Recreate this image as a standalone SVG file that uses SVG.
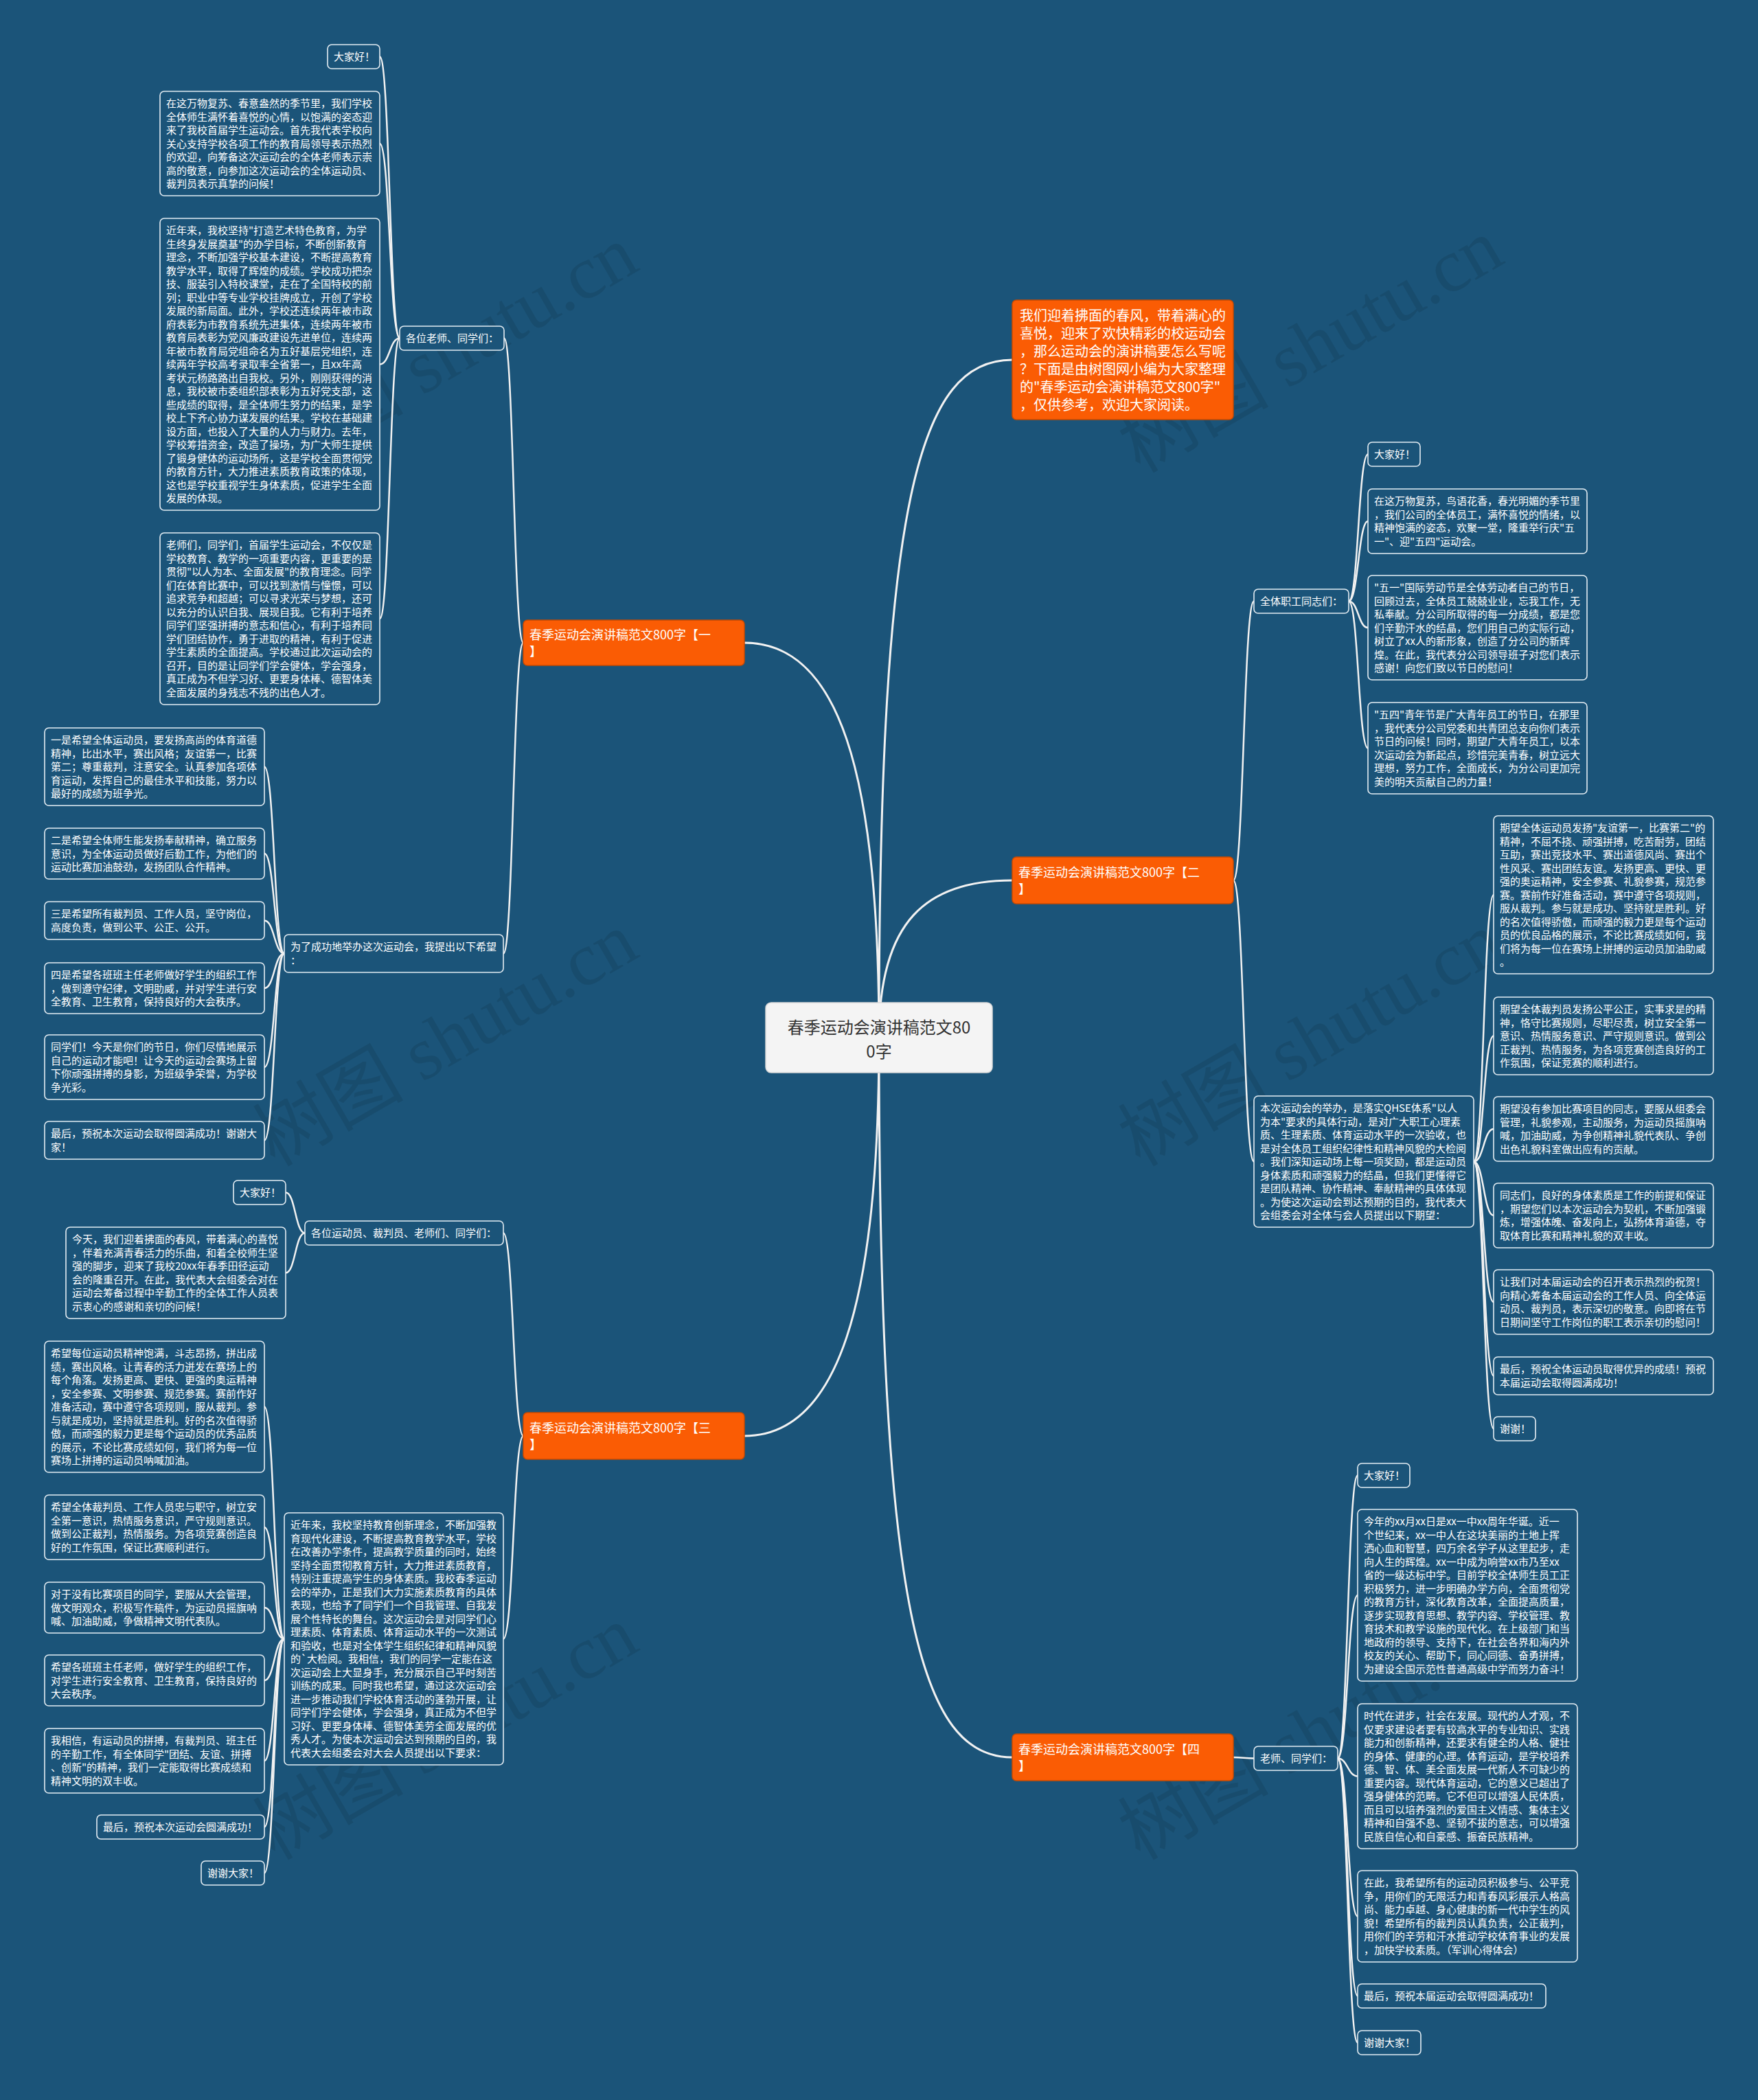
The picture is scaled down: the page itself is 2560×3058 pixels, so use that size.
<svg xmlns="http://www.w3.org/2000/svg" width="2560" height="3058" viewBox="0 0 2560 3058">
<style>
.box{fill:#1b5479;stroke:#e4edf3;stroke-width:1.6}
.org{fill:#fa5c04;stroke:#c94a00;stroke-width:1.5}
.root{fill:#f4f4f4;stroke:#d8d8d8;stroke-width:1.5}
.t{font-family:"Noto Sans CJK SC","Noto Sans",sans-serif;font-size:15px;fill:#ffffff}
.ot{font-size:18px}
.st{font-size:20px}
.rt{font-size:24px;fill:#333333}
.c{fill:none;stroke:#f2f2f2;stroke-width:2.5}
.cr{fill:none;stroke:#f2f2f2;stroke-width:3}
.wm{font-family:"Liberation Serif","Noto Sans CJK SC",serif;font-size:110px;fill:#000000;opacity:0.09}
</style>
<rect x="0" y="0" width="2560" height="3058" fill="#1b5479"/>
<g id="watermarks">
<text class="wm" transform="translate(400,700) rotate(-30)">树图 shutu.cn</text>
<text class="wm" transform="translate(1660,690) rotate(-30)">树图 shutu.cn</text>
<text class="wm" transform="translate(400,1700) rotate(-30)">树图 shutu.cn</text>
<text class="wm" transform="translate(1660,1700) rotate(-30)">树图 shutu.cn</text>
<text class="wm" transform="translate(400,2710) rotate(-30)">树图 shutu.cn</text>
<text class="wm" transform="translate(1660,2710) rotate(-30)">树图 shutu.cn</text>
</g>
<g id="connectors">
<path class="cr" d="M1084,936 C1220,936 1280,1120 1280,1511"/>
<path class="cr" d="M1084,2091 C1220,2091 1280,1900 1280,1511"/>
<path class="cr" d="M1474,524 C1340,524 1280,720 1280,1511"/>
<path class="cr" d="M1474,1282 C1350,1282 1280,1340 1280,1511"/>
<path class="cr" d="M1474,2559 C1340,2559 1280,2350 1280,1511"/>
<path class="c" d="M762,936 C748,936 748,492.5 734,492.5"/>
<path class="c" d="M762,936 C747.5,936 747.5,1388.5 733,1388.5"/>
<path class="c" d="M582,492.5 C567.5,492.5 567.5,82.5 553,82.5"/>
<path class="c" d="M582,492.5 C567.5,492.5 567.5,209 553,209"/>
<path class="c" d="M582,492.5 C567.5,492.5 567.5,530.5 553,530.5"/>
<path class="c" d="M582,492.5 C567.5,492.5 567.5,901 553,901"/>
<path class="c" d="M414,1388.5 C399.5,1388.5 399.5,1116.5 385,1116.5"/>
<path class="c" d="M414,1388.5 C399.5,1388.5 399.5,1243 385,1243"/>
<path class="c" d="M414,1388.5 C399.5,1388.5 399.5,1340.5 385,1340.5"/>
<path class="c" d="M414,1388.5 C399.5,1388.5 399.5,1439 385,1439"/>
<path class="c" d="M414,1388.5 C399.5,1388.5 399.5,1554 385,1554"/>
<path class="c" d="M414,1388.5 C399.5,1388.5 399.5,1660.5 385,1660.5"/>
<path class="c" d="M762,2091 C747.5,2091 747.5,1795.5 733,1795.5"/>
<path class="c" d="M762,2091 C747.5,2091 747.5,2386.5 733,2386.5"/>
<path class="c" d="M444,1795.5 C430,1795.5 430,1736.5 416,1736.5"/>
<path class="c" d="M444,1795.5 C430,1795.5 430,1853.5 416,1853.5"/>
<path class="c" d="M414,2386.5 C399.5,2386.5 399.5,2048.5 385,2048.5"/>
<path class="c" d="M414,2386.5 C399.5,2386.5 399.5,2224 385,2224"/>
<path class="c" d="M414,2386.5 C399.5,2386.5 399.5,2341 385,2341"/>
<path class="c" d="M414,2386.5 C399.5,2386.5 399.5,2447 385,2447"/>
<path class="c" d="M414,2386.5 C399.5,2386.5 399.5,2564 385,2564"/>
<path class="c" d="M414,2386.5 C399.5,2386.5 399.5,2660.5 385,2660.5"/>
<path class="c" d="M414,2386.5 C399.5,2386.5 399.5,2727.5 385,2727.5"/>
<path class="c" d="M1796,1282 C1811,1282 1811,875.5 1826,875.5"/>
<path class="c" d="M1796,1282 C1811,1282 1811,1691.5 1826,1691.5"/>
<path class="c" d="M1964,875.5 C1978,875.5 1978,661.5 1992,661.5"/>
<path class="c" d="M1964,875.5 C1978,875.5 1978,759 1992,759"/>
<path class="c" d="M1964,875.5 C1978,875.5 1978,914 1992,914"/>
<path class="c" d="M1964,875.5 C1978,875.5 1978,1089.5 1992,1089.5"/>
<path class="c" d="M2146,1691.5 C2160.5,1691.5 2160.5,1303 2175,1303"/>
<path class="c" d="M2146,1691.5 C2160.5,1691.5 2160.5,1508.5 2175,1508.5"/>
<path class="c" d="M2146,1691.5 C2160.5,1691.5 2160.5,1644 2175,1644"/>
<path class="c" d="M2146,1691.5 C2160.5,1691.5 2160.5,1770 2175,1770"/>
<path class="c" d="M2146,1691.5 C2160.5,1691.5 2160.5,1896 2175,1896"/>
<path class="c" d="M2146,1691.5 C2160.5,1691.5 2160.5,2003.5 2175,2003.5"/>
<path class="c" d="M2146,1691.5 C2160.5,1691.5 2160.5,2080.5 2175,2080.5"/>
<path class="c" d="M1796,2559 C1811,2559 1811,2560.5 1826,2560.5"/>
<path class="c" d="M1948,2560.5 C1962.5,2560.5 1962.5,2148.5 1977,2148.5"/>
<path class="c" d="M1948,2560.5 C1962.5,2560.5 1962.5,2323 1977,2323"/>
<path class="c" d="M1948,2560.5 C1962.5,2560.5 1962.5,2586.5 1977,2586.5"/>
<path class="c" d="M1948,2560.5 C1962.5,2560.5 1962.5,2790.5 1977,2790.5"/>
<path class="c" d="M1948,2560.5 C1962.5,2560.5 1962.5,2906.5 1977,2906.5"/>
<path class="c" d="M1948,2560.5 C1962.5,2560.5 1962.5,2974.5 1977,2974.5"/>
</g>
<g id="root">
<rect class="root" x="1115" y="1460" width="330" height="102" rx="8"/>
<text class="t rt" text-anchor="middle"><tspan x="1280" y="1505">春季运动会演讲稿范文80</tspan><tspan x="1280" y="1540">0字</tspan></text>
</g>
<g id="summary">
<rect class="org" x="1474" y="437" width="322" height="174" rx="6"/>
<text class="t st"><tspan x="1485" y="467">我们迎着拂面的春风，带着满心的</tspan><tspan x="1485" dy="26">喜悦，迎来了欢快精彩的校运动会</tspan><tspan x="1485" dy="26">，那么运动会的演讲稿要怎么写呢</tspan><tspan x="1485" dy="26">？下面是由树图网小编为大家整理</tspan><tspan x="1485" dy="26">的"春季运动会演讲稿范文800字"</tspan><tspan x="1485" dy="26">，仅供参考，欢迎大家阅读。</tspan></text>
</g>
<g id="b1">
<rect class="org" x="762" y="903" width="322" height="66" rx="6"/>
<text class="t ot"><tspan x="771" y="931">春季运动会演讲稿范文800字【一</tspan><tspan x="771" dy="24">】</tspan></text>
</g>
<g id="b2">
<rect class="org" x="1474" y="1248" width="322" height="68" rx="6"/>
<text class="t ot"><tspan x="1483" y="1277">春季运动会演讲稿范文800字【二</tspan><tspan x="1483" dy="24">】</tspan></text>
</g>
<g id="b3">
<rect class="org" x="762" y="2057" width="322" height="68" rx="6"/>
<text class="t ot"><tspan x="771" y="2086">春季运动会演讲稿范文800字【三</tspan><tspan x="771" dy="24">】</tspan></text>
</g>
<g id="b4">
<rect class="org" x="1474" y="2525" width="322" height="68" rx="6"/>
<text class="t ot"><tspan x="1483" y="2554">春季运动会演讲稿范文800字【四</tspan><tspan x="1483" dy="24">】</tspan></text>
</g>
<g id="n1a">
<rect class="box" x="582" y="475" width="152" height="35" rx="6"/>
<text class="t" x="591" y="498">各位老师、同学们：</text>
</g>
<g id="n1a1">
<rect class="box" x="477" y="65" width="76" height="35" rx="6"/>
<text class="t" x="486" y="88">大家好！</text>
</g>
<g id="n1a2">
<rect class="box" x="233" y="133" width="320" height="152" rx="6"/>
<text class="t"><tspan x="242" y="156">在这万物复苏、春意盎然的季节里，我们学校</tspan><tspan x="242" dy="19.5">全体师生满怀着喜悦的心情，以饱满的姿态迎</tspan><tspan x="242" dy="19.5">来了我校首届学生运动会。首先我代表学校向</tspan><tspan x="242" dy="19.5">关心支持学校各项工作的教育局领导表示热烈</tspan><tspan x="242" dy="19.5">的欢迎，向筹备这次运动会的全体老师表示崇</tspan><tspan x="242" dy="19.5">高的敬意，向参加这次运动会的全体运动员、</tspan><tspan x="242" dy="19.5">裁判员表示真挚的问候！</tspan></text>
</g>
<g id="n1a3">
<rect class="box" x="233" y="318" width="320" height="425" rx="6"/>
<text class="t"><tspan x="242" y="341">近年来，我校坚持"打造艺术特色教育，为学</tspan><tspan x="242" dy="19.5">生终身发展奠基"的办学目标，不断创新教育</tspan><tspan x="242" dy="19.5">理念，不断加强学校基本建设，不断提高教育</tspan><tspan x="242" dy="19.5">教学水平，取得了辉煌的成绩。学校成功把杂</tspan><tspan x="242" dy="19.5">技、服装引入特校课堂，走在了全国特校的前</tspan><tspan x="242" dy="19.5">列；职业中等专业学校挂牌成立，开创了学校</tspan><tspan x="242" dy="19.5">发展的新局面。此外，学校还连续两年被市政</tspan><tspan x="242" dy="19.5">府表彰为市教育系统先进集体，连续两年被市</tspan><tspan x="242" dy="19.5">教育局表彰为党风廉政建设先进单位，连续两</tspan><tspan x="242" dy="19.5">年被市教育局党组命名为五好基层党组织，连</tspan><tspan x="242" dy="19.5">续两年学校高考录取率全省第一，且xx年高</tspan><tspan x="242" dy="19.5">考状元杨路路出自我校。另外，刚刚获得的消</tspan><tspan x="242" dy="19.5">息，我校被市委组织部表彰为五好党支部，这</tspan><tspan x="242" dy="19.5">些成绩的取得，是全体师生努力的结果，是学</tspan><tspan x="242" dy="19.5">校上下齐心协力谋发展的结果。学校在基础建</tspan><tspan x="242" dy="19.5">设方面，也投入了大量的人力与财力。去年，</tspan><tspan x="242" dy="19.5">学校筹措资金，改造了操场，为广大师生提供</tspan><tspan x="242" dy="19.5">了锻身健体的运动场所，这是学校全面贯彻党</tspan><tspan x="242" dy="19.5">的教育方针，大力推进素质教育政策的体现，</tspan><tspan x="242" dy="19.5">这也是学校重视学生身体素质，促进学生全面</tspan><tspan x="242" dy="19.5">发展的体现。</tspan></text>
</g>
<g id="n1a4">
<rect class="box" x="233" y="776" width="320" height="250" rx="6"/>
<text class="t"><tspan x="242" y="799">老师们，同学们，首届学生运动会，不仅仅是</tspan><tspan x="242" dy="19.5">学校教育、教学的一项重要内容，更重要的是</tspan><tspan x="242" dy="19.5">贯彻"以人为本、全面发展"的教育理念。同学</tspan><tspan x="242" dy="19.5">们在体育比赛中，可以找到激情与憧憬，可以</tspan><tspan x="242" dy="19.5">追求竞争和超越；可以寻求光荣与梦想，还可</tspan><tspan x="242" dy="19.5">以充分的认识自我、展现自我。它有利于培养</tspan><tspan x="242" dy="19.5">同学们坚强拼搏的意志和信心，有利于培养同</tspan><tspan x="242" dy="19.5">学们团结协作，勇于进取的精神，有利于促进</tspan><tspan x="242" dy="19.5">学生素质的全面提高。学校通过此次运动会的</tspan><tspan x="242" dy="19.5">召开，目的是让同学们学会健体，学会强身，</tspan><tspan x="242" dy="19.5">真正成为不但学习好、更要身体棒、德智体美</tspan><tspan x="242" dy="19.5">全面发展的身残志不残的出色人才。</tspan></text>
</g>
<g id="n1b">
<rect class="box" x="414" y="1361" width="319" height="55" rx="6"/>
<text class="t"><tspan x="423" y="1384">为了成功地举办这次运动会，我提出以下希望</tspan><tspan x="423" dy="19.5">：</tspan></text>
</g>
<g id="n1b1">
<rect class="box" x="65" y="1060" width="320" height="113" rx="6"/>
<text class="t"><tspan x="74" y="1083">一是希望全体运动员，要发扬高尚的体育道德</tspan><tspan x="74" dy="19.5">精神，比出水平，赛出风格；友谊第一，比赛</tspan><tspan x="74" dy="19.5">第二；尊重裁判，注意安全。认真参加各项体</tspan><tspan x="74" dy="19.5">育运动，发挥自己的最佳水平和技能，努力以</tspan><tspan x="74" dy="19.5">最好的成绩为班争光。</tspan></text>
</g>
<g id="n1b2">
<rect class="box" x="65" y="1206" width="320" height="74" rx="6"/>
<text class="t"><tspan x="74" y="1229">二是希望全体师生能发扬奉献精神，确立服务</tspan><tspan x="74" dy="19.5">意识，为全体运动员做好后勤工作，为他们的</tspan><tspan x="74" dy="19.5">运动比赛加油鼓劲，发扬团队合作精神。</tspan></text>
</g>
<g id="n1b3">
<rect class="box" x="65" y="1313" width="320" height="55" rx="6"/>
<text class="t"><tspan x="74" y="1336">三是希望所有裁判员、工作人员，坚守岗位，</tspan><tspan x="74" dy="19.5">高度负责，做到公平、公正、公开。</tspan></text>
</g>
<g id="n1b4">
<rect class="box" x="65" y="1402" width="320" height="74" rx="6"/>
<text class="t"><tspan x="74" y="1425">四是希望各班班主任老师做好学生的组织工作</tspan><tspan x="74" dy="19.5">，做到遵守纪律，文明助威，并对学生进行安</tspan><tspan x="74" dy="19.5">全教育、卫生教育，保持良好的大会秩序。</tspan></text>
</g>
<g id="n1b5">
<rect class="box" x="65" y="1507" width="320" height="94" rx="6"/>
<text class="t"><tspan x="74" y="1530">同学们！今天是你们的节日，你们尽情地展示</tspan><tspan x="74" dy="19.5">自己的运动才能吧！让今天的运动会赛场上留</tspan><tspan x="74" dy="19.5">下你顽强拼搏的身影，为班级争荣誉，为学校</tspan><tspan x="74" dy="19.5">争光彩。</tspan></text>
</g>
<g id="n1b6">
<rect class="box" x="65" y="1633" width="320" height="55" rx="6"/>
<text class="t"><tspan x="74" y="1656">最后，预祝本次运动会取得圆满成功！谢谢大</tspan><tspan x="74" dy="19.5">家！</tspan></text>
</g>
<g id="n3a">
<rect class="box" x="444" y="1778" width="289" height="35" rx="6"/>
<text class="t" x="453" y="1801">各位运动员、裁判员、老师们、同学们：</text>
</g>
<g id="n3a1">
<rect class="box" x="340" y="1719" width="76" height="35" rx="6"/>
<text class="t" x="349" y="1742">大家好！</text>
</g>
<g id="n3a2">
<rect class="box" x="96" y="1787" width="320" height="133" rx="6"/>
<text class="t"><tspan x="105" y="1810">今天，我们迎着拂面的春风，带着满心的喜悦</tspan><tspan x="105" dy="19.5">，伴着充满青春活力的乐曲，和着全校师生坚</tspan><tspan x="105" dy="19.5">强的脚步，迎来了我校20xx年春季田径运动</tspan><tspan x="105" dy="19.5">会的隆重召开。在此，我代表大会组委会对在</tspan><tspan x="105" dy="19.5">运动会筹备过程中辛勤工作的全体工作人员表</tspan><tspan x="105" dy="19.5">示衷心的感谢和亲切的问候！</tspan></text>
</g>
<g id="n3b">
<rect class="box" x="414" y="2203" width="319" height="367" rx="6"/>
<text class="t"><tspan x="423" y="2226">近年来，我校坚持教育创新理念，不断加强教</tspan><tspan x="423" dy="19.5">育现代化建设，不断提高教育教学水平，学校</tspan><tspan x="423" dy="19.5">在改善办学条件，提高教学质量的同时，始终</tspan><tspan x="423" dy="19.5">坚持全面贯彻教育方针，大力推进素质教育，</tspan><tspan x="423" dy="19.5">特别注重提高学生的身体素质。我校春季运动</tspan><tspan x="423" dy="19.5">会的举办，正是我们大力实施素质教育的具体</tspan><tspan x="423" dy="19.5">表现，也给予了同学们一个自我管理、自我发</tspan><tspan x="423" dy="19.5">展个性特长的舞台。这次运动会是对同学们心</tspan><tspan x="423" dy="19.5">理素质、体育素质、体育运动水平的一次测试</tspan><tspan x="423" dy="19.5">和验收，也是对全体学生组织纪律和精神风貌</tspan><tspan x="423" dy="19.5">的`大检阅。我相信，我们的同学一定能在这</tspan><tspan x="423" dy="19.5">次运动会上大显身手，充分展示自己平时刻苦</tspan><tspan x="423" dy="19.5">训练的成果。同时我也希望，通过这次运动会</tspan><tspan x="423" dy="19.5">进一步推动我们学校体育活动的蓬勃开展，让</tspan><tspan x="423" dy="19.5">同学们学会健体，学会强身，真正成为不但学</tspan><tspan x="423" dy="19.5">习好、更要身体棒、德智体美劳全面发展的优</tspan><tspan x="423" dy="19.5">秀人才。为使本次运动会达到预期的目的，我</tspan><tspan x="423" dy="19.5">代表大会组委会对大会人员提出以下要求：</tspan></text>
</g>
<g id="n3b1">
<rect class="box" x="65" y="1953" width="320" height="191" rx="6"/>
<text class="t"><tspan x="74" y="1976">希望每位运动员精神饱满，斗志昂扬，拼出成</tspan><tspan x="74" dy="19.5">绩，赛出风格。让青春的活力迸发在赛场上的</tspan><tspan x="74" dy="19.5">每个角落。发扬更高、更快、更强的奥运精神</tspan><tspan x="74" dy="19.5">，安全参赛、文明参赛、规范参赛。赛前作好</tspan><tspan x="74" dy="19.5">准备活动，赛中遵守各项规则，服从裁判。参</tspan><tspan x="74" dy="19.5">与就是成功，坚持就是胜利。好的名次值得骄</tspan><tspan x="74" dy="19.5">傲，而顽强的毅力更是每个运动员的优秀品质</tspan><tspan x="74" dy="19.5">的展示，不论比赛成绩如何，我们将为每一位</tspan><tspan x="74" dy="19.5">赛场上拼搏的运动员呐喊加油。</tspan></text>
</g>
<g id="n3b2">
<rect class="box" x="65" y="2177" width="320" height="94" rx="6"/>
<text class="t"><tspan x="74" y="2200">希望全体裁判员、工作人员忠与职守，树立安</tspan><tspan x="74" dy="19.5">全第一意识，热情服务意识，严守规则意识。</tspan><tspan x="74" dy="19.5">做到公正裁判，热情服务。为各项竞赛创造良</tspan><tspan x="74" dy="19.5">好的工作氛围，保证比赛顺利进行。</tspan></text>
</g>
<g id="n3b3">
<rect class="box" x="65" y="2304" width="320" height="74" rx="6"/>
<text class="t"><tspan x="74" y="2327">对于没有比赛项目的同学，要服从大会管理，</tspan><tspan x="74" dy="19.5">做文明观众，积极写作稿件，为运动员摇旗呐</tspan><tspan x="74" dy="19.5">喊、加油助威，争做精神文明代表队。</tspan></text>
</g>
<g id="n3b4">
<rect class="box" x="65" y="2410" width="320" height="74" rx="6"/>
<text class="t"><tspan x="74" y="2433">希望各班班主任老师，做好学生的组织工作，</tspan><tspan x="74" dy="19.5">对学生进行安全教育、卫生教育，保持良好的</tspan><tspan x="74" dy="19.5">大会秩序。</tspan></text>
</g>
<g id="n3b5">
<rect class="box" x="65" y="2517" width="320" height="94" rx="6"/>
<text class="t"><tspan x="74" y="2540">我相信，有运动员的拼搏，有裁判员、班主任</tspan><tspan x="74" dy="19.5">的辛勤工作，有全体同学"团结、友谊、拼搏</tspan><tspan x="74" dy="19.5">、创新"的精神，我们一定能取得比赛成绩和</tspan><tspan x="74" dy="19.5">精神文明的双丰收。</tspan></text>
</g>
<g id="n3b6">
<rect class="box" x="141" y="2643" width="244" height="35" rx="6"/>
<text class="t" x="150" y="2666">最后，预祝本次运动会圆满成功！</text>
</g>
<g id="n3b7">
<rect class="box" x="293" y="2710" width="92" height="35" rx="6"/>
<text class="t" x="302" y="2733">谢谢大家！</text>
</g>
<g id="n2a">
<rect class="box" x="1826" y="858" width="138" height="35" rx="6"/>
<text class="t" x="1835" y="881">全体职工同志们：</text>
</g>
<g id="n2a1">
<rect class="box" x="1992" y="644" width="76" height="35" rx="6"/>
<text class="t" x="2001" y="667">大家好！</text>
</g>
<g id="n2a2">
<rect class="box" x="1992" y="712" width="319" height="94" rx="6"/>
<text class="t"><tspan x="2001" y="735">在这万物复苏，鸟语花香，春光明媚的季节里</tspan><tspan x="2001" dy="19.5">，我们公司的全体员工，满怀喜悦的情绪，以</tspan><tspan x="2001" dy="19.5">精神饱满的姿态，欢聚一堂，隆重举行庆"五</tspan><tspan x="2001" dy="19.5">一"、迎"五四"运动会。</tspan></text>
</g>
<g id="n2a3">
<rect class="box" x="1992" y="838" width="319" height="152" rx="6"/>
<text class="t"><tspan x="2001" y="861">"五一"国际劳动节是全体劳动者自己的节日，</tspan><tspan x="2001" dy="19.5">回顾过去，全体员工兢兢业业，忘我工作，无</tspan><tspan x="2001" dy="19.5">私奉献。分公司所取得的每一分成绩，都是您</tspan><tspan x="2001" dy="19.5">们辛勤汗水的结晶，您们用自己的实际行动，</tspan><tspan x="2001" dy="19.5">树立了xx人的新形象，创造了分公司的新辉</tspan><tspan x="2001" dy="19.5">煌。在此，我代表分公司领导班子对您们表示</tspan><tspan x="2001" dy="19.5">感谢！向您们致以节日的慰问！</tspan></text>
</g>
<g id="n2a4">
<rect class="box" x="1992" y="1023" width="319" height="133" rx="6"/>
<text class="t"><tspan x="2001" y="1046">"五四"青年节是广大青年员工的节日，在那里</tspan><tspan x="2001" dy="19.5">，我代表分公司党委和共青团总支向你们表示</tspan><tspan x="2001" dy="19.5">节日的问候！同时，期望广大青年员工，以本</tspan><tspan x="2001" dy="19.5">次运动会为新起点，珍惜完美青春，树立远大</tspan><tspan x="2001" dy="19.5">理想，努力工作，全面成长，为分公司更加完</tspan><tspan x="2001" dy="19.5">美的明天贡献自己的力量！</tspan></text>
</g>
<g id="n2b">
<rect class="box" x="1826" y="1596" width="320" height="191" rx="6"/>
<text class="t"><tspan x="1835" y="1619">本次运动会的举办，是落实QHSE体系"以人</tspan><tspan x="1835" dy="19.5">为本"要求的具体行动，是对广大职工心理素</tspan><tspan x="1835" dy="19.5">质、生理素质、体育运动水平的一次验收，也</tspan><tspan x="1835" dy="19.5">是对全体员工组织纪律性和精神风貌的大检阅</tspan><tspan x="1835" dy="19.5">。我们深知运动场上每一项奖励，都是运动员</tspan><tspan x="1835" dy="19.5">身体素质和顽强毅力的结晶，但我们更懂得它</tspan><tspan x="1835" dy="19.5">是团队精神、协作精神、奉献精神的具体体现</tspan><tspan x="1835" dy="19.5">。为使这次运动会到达预期的目的，我代表大</tspan><tspan x="1835" dy="19.5">会组委会对全体与会人员提出以下期望：</tspan></text>
</g>
<g id="n2b1">
<rect class="box" x="2175" y="1188" width="320" height="230" rx="6"/>
<text class="t"><tspan x="2184" y="1211">期望全体运动员发扬"友谊第一，比赛第二"的</tspan><tspan x="2184" dy="19.5">精神，不屈不挠、顽强拼搏，吃苦耐劳，团结</tspan><tspan x="2184" dy="19.5">互助，赛出竞技水平、赛出道德风尚、赛出个</tspan><tspan x="2184" dy="19.5">性风采、赛出团结友谊。发扬更高、更快、更</tspan><tspan x="2184" dy="19.5">强的奥运精神，安全参赛、礼貌参赛，规范参</tspan><tspan x="2184" dy="19.5">赛。赛前作好准备活动，赛中遵守各项规则，</tspan><tspan x="2184" dy="19.5">服从裁判。参与就是成功、坚持就是胜利。好</tspan><tspan x="2184" dy="19.5">的名次值得骄傲，而顽强的毅力更是每个运动</tspan><tspan x="2184" dy="19.5">员的优良品格的展示，不论比赛成绩如何，我</tspan><tspan x="2184" dy="19.5">们将为每一位在赛场上拼搏的运动员加油助威</tspan><tspan x="2184" dy="19.5">。</tspan></text>
</g>
<g id="n2b2">
<rect class="box" x="2175" y="1452" width="320" height="113" rx="6"/>
<text class="t"><tspan x="2184" y="1475">期望全体裁判员发扬公平公正，实事求是的精</tspan><tspan x="2184" dy="19.5">神，恪守比赛规则，尽职尽责，树立安全第一</tspan><tspan x="2184" dy="19.5">意识、热情服务意识、严守规则意识。做到公</tspan><tspan x="2184" dy="19.5">正裁判、热情服务，为各项竞赛创造良好的工</tspan><tspan x="2184" dy="19.5">作氛围，保证竞赛的顺利进行。</tspan></text>
</g>
<g id="n2b3">
<rect class="box" x="2175" y="1597" width="320" height="94" rx="6"/>
<text class="t"><tspan x="2184" y="1620">期望没有参加比赛项目的同志，要服从组委会</tspan><tspan x="2184" dy="19.5">管理，礼貌参观，主动服务，为运动员摇旗呐</tspan><tspan x="2184" dy="19.5">喊，加油助威，为争创精神礼貌代表队、争创</tspan><tspan x="2184" dy="19.5">出色礼貌科室做出应有的贡献。</tspan></text>
</g>
<g id="n2b4">
<rect class="box" x="2175" y="1723" width="320" height="94" rx="6"/>
<text class="t"><tspan x="2184" y="1746">同志们，良好的身体素质是工作的前提和保证</tspan><tspan x="2184" dy="19.5">，期望您们以本次运动会为契机，不断加强锻</tspan><tspan x="2184" dy="19.5">炼，增强体魄、奋发向上，弘扬体育道德，夺</tspan><tspan x="2184" dy="19.5">取体育比赛和精神礼貌的双丰收。</tspan></text>
</g>
<g id="n2b5">
<rect class="box" x="2175" y="1849" width="320" height="94" rx="6"/>
<text class="t"><tspan x="2184" y="1872">让我们对本届运动会的召开表示热烈的祝贺！</tspan><tspan x="2184" dy="19.5">向精心筹备本届运动会的工作人员、向全体运</tspan><tspan x="2184" dy="19.5">动员、裁判员，表示深切的敬意。向即将在节</tspan><tspan x="2184" dy="19.5">日期间坚守工作岗位的职工表示亲切的慰问！</tspan></text>
</g>
<g id="n2b6">
<rect class="box" x="2175" y="1976" width="320" height="55" rx="6"/>
<text class="t"><tspan x="2184" y="1999">最后，预祝全体运动员取得优异的成绩！预祝</tspan><tspan x="2184" dy="19.5">本届运动会取得圆满成功！</tspan></text>
</g>
<g id="n2b7">
<rect class="box" x="2175" y="2063" width="61" height="35" rx="6"/>
<text class="t" x="2184" y="2086">谢谢！</text>
</g>
<g id="n4a">
<rect class="box" x="1826" y="2543" width="122" height="35" rx="6"/>
<text class="t" x="1835" y="2566">老师、同学们：</text>
</g>
<g id="n4a1">
<rect class="box" x="1977" y="2131" width="76" height="35" rx="6"/>
<text class="t" x="1986" y="2154">大家好！</text>
</g>
<g id="n4a2">
<rect class="box" x="1977" y="2198" width="320" height="250" rx="6"/>
<text class="t"><tspan x="1986" y="2221">今年的xx月xx日是xx一中xx周年华诞。近一</tspan><tspan x="1986" dy="19.5">个世纪来，xx一中人在这块美丽的土地上挥</tspan><tspan x="1986" dy="19.5">洒心血和智慧，四万余名学子从这里起步，走</tspan><tspan x="1986" dy="19.5">向人生的辉煌。xx一中成为响誉xx市乃至xx</tspan><tspan x="1986" dy="19.5">省的一级达标中学。目前学校全体师生员工正</tspan><tspan x="1986" dy="19.5">积极努力，进一步明确办学方向，全面贯彻党</tspan><tspan x="1986" dy="19.5">的教育方针，深化教育改革，全面提高质量，</tspan><tspan x="1986" dy="19.5">逐步实现教育思想、教学内容、学校管理、教</tspan><tspan x="1986" dy="19.5">育技术和教学设施的现代化。在上级部门和当</tspan><tspan x="1986" dy="19.5">地政府的领导、支持下，在社会各界和海内外</tspan><tspan x="1986" dy="19.5">校友的关心、帮助下，同心同德、奋勇拼搏，</tspan><tspan x="1986" dy="19.5">为建设全国示范性普通高级中学而努力奋斗！</tspan></text>
</g>
<g id="n4a3">
<rect class="box" x="1977" y="2481" width="320" height="211" rx="6"/>
<text class="t"><tspan x="1986" y="2504">时代在进步，社会在发展。现代的人才观，不</tspan><tspan x="1986" dy="19.5">仅要求建设者要有较高水平的专业知识、实践</tspan><tspan x="1986" dy="19.5">能力和创新精神，还要求有健全的人格、健壮</tspan><tspan x="1986" dy="19.5">的身体、健康的心理。体育运动，是学校培养</tspan><tspan x="1986" dy="19.5">德、智、体、美全面发展一代新人不可缺少的</tspan><tspan x="1986" dy="19.5">重要内容。现代体育运动，它的意义已超出了</tspan><tspan x="1986" dy="19.5">强身健体的范畴。它不但可以增强人民体质，</tspan><tspan x="1986" dy="19.5">而且可以培养强烈的爱国主义情感、集体主义</tspan><tspan x="1986" dy="19.5">精神和自强不息、坚韧不拔的意志，可以增强</tspan><tspan x="1986" dy="19.5">民族自信心和自豪感、振奋民族精神。</tspan></text>
</g>
<g id="n4a4">
<rect class="box" x="1977" y="2724" width="320" height="133" rx="6"/>
<text class="t"><tspan x="1986" y="2747">在此，我希望所有的运动员积极参与、公平竞</tspan><tspan x="1986" dy="19.5">争，用你们的无限活力和青春风彩展示人格高</tspan><tspan x="1986" dy="19.5">尚、能力卓越、身心健康的新一代中学生的风</tspan><tspan x="1986" dy="19.5">貌！希望所有的裁判员认真负责，公正裁判，</tspan><tspan x="1986" dy="19.5">用你们的辛劳和汗水推动学校体育事业的发展</tspan><tspan x="1986" dy="19.5">，加快学校素质。（军训心得体会）</tspan></text>
</g>
<g id="n4a5">
<rect class="box" x="1977" y="2889" width="274" height="35" rx="6"/>
<text class="t" x="1986" y="2912">最后，预祝本届运动会取得圆满成功！</text>
</g>
<g id="n4a6">
<rect class="box" x="1977" y="2957" width="92" height="35" rx="6"/>
<text class="t" x="1986" y="2980">谢谢大家！</text>
</g>
</svg>
